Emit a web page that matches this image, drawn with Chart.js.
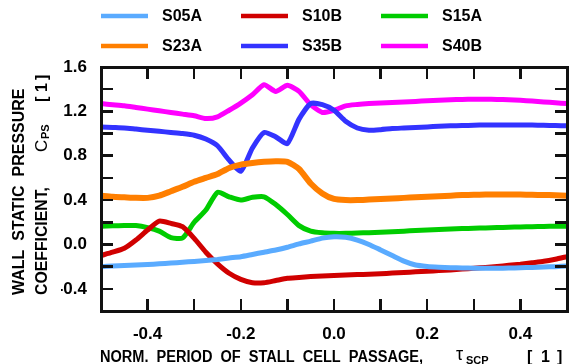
<!DOCTYPE html>
<html>
<head>
<meta charset="utf-8">
<script src="https://cdn.jsdelivr.net/npm/chart.js@4.4.0/dist/chart.umd.min.js"></script>
<style>
  html, body { margin: 0; padding: 0; background: #fff; }
  #wrap { position: relative; width: 570px; height: 364px; }
  #wrap canvas { position: absolute; left: 0; top: 0; }
  .frame { position: absolute; border: 3px solid #111; box-sizing: border-box; pointer-events: none; }
  .tk { position: absolute; background: #111; pointer-events: none; }
</style>
</head>
<body>
<div id="wrap"><canvas id="cps" width="570" height="364"></canvas></div>
<script>
// normalised period of stall cell passage
const tau = [-0.5, -0.475, -0.45, -0.425, -0.4, -0.375, -0.35, -0.325, -0.3, -0.275,
  -0.25, -0.225, -0.2, -0.175, -0.15, -0.125, -0.1, -0.075, -0.05, -0.025,
  0, 0.025, 0.05, 0.075, 0.1, 0.125, 0.15, 0.175, 0.2, 0.225,
  0.25, 0.275, 0.3, 0.325, 0.35, 0.375, 0.4, 0.425, 0.45, 0.475, 0.5];

// wall static pressure coefficient per sensor
const s05a = [-0.2, -0.195, -0.19, -0.185, -0.18, -0.175, -0.168, -0.16, -0.153, -0.145,
  -0.135, -0.122, -0.11, -0.09, -0.07, -0.05, -0.025, 0.005, 0.03, 0.057,
  0.07, 0.065, 0.04, 0.0, -0.05, -0.1, -0.15, -0.185, -0.198, -0.205,
  -0.21, -0.212, -0.214, -0.215, -0.215, -0.213, -0.21, -0.207, -0.203, -0.2, -0.195];
const s10b = [-0.1, -0.07, -0.035, 0.04, 0.13, 0.21, 0.19, 0.16, 0.055, -0.07,
  -0.175, -0.26, -0.315, -0.345, -0.345, -0.325, -0.305, -0.298, -0.29, -0.285,
  -0.28, -0.276, -0.272, -0.268, -0.264, -0.258, -0.253, -0.247, -0.242, -0.236,
  -0.23, -0.222, -0.215, -0.207, -0.198, -0.188, -0.178, -0.165, -0.152, -0.133, -0.11];
const s15a = [0.165, 0.168, 0.17, 0.17, 0.152, 0.12, 0.062, 0.058, 0.2, 0.31,
  0.47, 0.43, 0.4, 0.425, 0.43, 0.36, 0.27, 0.17, 0.12, 0.105,
  0.1, 0.1, 0.103, 0.106, 0.11, 0.115, 0.12, 0.125, 0.13, 0.135,
  0.14, 0.143, 0.146, 0.149, 0.152, 0.155, 0.158, 0.16, 0.162, 0.164, 0.165];
const s23a = [0.44, 0.43, 0.425, 0.42, 0.42, 0.44, 0.48, 0.52, 0.565, 0.6,
  0.635, 0.69, 0.72, 0.735, 0.745, 0.75, 0.745, 0.68, 0.55, 0.46,
  0.41, 0.4, 0.4, 0.405, 0.41, 0.415, 0.42, 0.425, 0.43, 0.435,
  0.44, 0.445, 0.448, 0.45, 0.45, 0.45, 0.45, 0.448, 0.446, 0.444, 0.44];
const s35b = [1.06, 1.055, 1.05, 1.04, 1.03, 1.02, 1.01, 1.0, 0.985, 0.95,
  0.89, 0.76, 0.66, 0.87, 1.01, 0.97, 0.91, 1.13, 1.27, 1.26,
  1.21, 1.11, 1.05, 1.03, 1.035, 1.045, 1.05, 1.055, 1.06, 1.065,
  1.07, 1.072, 1.075, 1.077, 1.078, 1.078, 1.077, 1.076, 1.074, 1.072, 1.07];
const s40b = [1.27, 1.26, 1.25, 1.235, 1.22, 1.205, 1.19, 1.175, 1.16, 1.135,
  1.15, 1.21, 1.275, 1.35, 1.44, 1.38, 1.435, 1.38, 1.26, 1.19,
  1.21, 1.25, 1.262, 1.27, 1.275, 1.28, 1.285, 1.29, 1.295, 1.3,
  1.305, 1.308, 1.31, 1.31, 1.308, 1.305, 1.3, 1.293, 1.285, 1.278, 1.27];

const names = ["S05A", "S10B", "S15A", "S23A", "S35B", "S40B"];
const colors = ["#5aabff", "#d00000", "#00cc00", "#ff7f00", "#3333ff", "#ff00ff"];

const xLabels = [-0.4, -0.2, 0.0, 0.2, 0.4];
const yLabels = [-0.4, 0.0, 0.4, 0.8, 1.2, 1.6];
const xMarks = [-0.4, -0.3, -0.2, -0.1, 0.0, 0.1, 0.2, 0.3, 0.4];
const yMarks = [-0.4, -0.2, 0.0, 0.2, 0.4, 0.6, 0.8, 1.0, 1.2, 1.4];

const FONT = '"Liberation Sans", Arial, sans-serif';

const series = [s05a, s10b, s15a, s23a, s35b, s40b];
const datasets = series.map((ys, i) => ({
  label: names[i],
  data: ys.map((v, k) => ({ x: tau[k], y: v })),
  borderColor: colors[i],
  borderWidth: i === 3 ? 6 : 5,
  pointRadius: 0,
  tension: 0.2,
  fill: false
}));

const isLabel = (list, v) => list.some(l => Math.abs(l - v) < 1e-9);

// axis titles and the two-row legend
const decor = {
  id: 'decor',
  afterDraw(chart) {
    const ctx = chart.ctx;
    ctx.save();
    ctx.fillStyle = '#000';
    ctx.textBaseline = 'alphabetic';
    ctx.textAlign = 'left';

    // x title
    ctx.font = 'bold 16px ' + FONT;
    ctx.fillText('NORM.  PERIOD  OF  STALL  CELL  PASSAGE,', 100, 362, 323);
    ctx.font = '18px ' + FONT;
    ctx.fillText('\u03C4', 456, 360);
    ctx.font = 'bold 11px ' + FONT;
    ctx.fillText('SCP', 466, 364);
    ctx.font = 'bold 16px ' + FONT;
    ctx.fillText('[', 527, 362);
    ctx.fillText('1', 541, 362);
    ctx.fillText(']', 557, 362);

    // y title, two rotated lines
    ctx.save();
    ctx.translate(24, 295);
    ctx.rotate(-Math.PI / 2);
    ctx.font = 'bold 16px ' + FONT;
    ctx.fillText('WALL  STATIC  PRESSURE', 0, 0, 210);
    ctx.restore();

    ctx.save();
    ctx.translate(47, 295);
    ctx.rotate(-Math.PI / 2);
    ctx.font = 'bold 16px ' + FONT;
    ctx.fillText('COEFFICIENT,', 0, 0, 108);
    ctx.font = '17px ' + FONT;
    ctx.fillText('C', 143, 0);
    ctx.font = 'bold 11px ' + FONT;
    ctx.fillText('PS', 156, 2);
    ctx.font = 'bold 16px ' + FONT;
    ctx.fillText('[', 193, 0);
    ctx.fillText('1', 203, 0);
    ctx.fillText(']', 215, 0);
    ctx.restore();

    // legend
    const colX = [101, 241, 381];
    const rowY = [16, 46];
    ctx.font = 'bold 16px ' + FONT;
    ctx.textBaseline = 'middle';
    names.forEach((n, i) => {
      const cx = colX[i % 3], cy = rowY[Math.floor(i / 3)];
      ctx.fillStyle = colors[i];
      ctx.fillRect(cx, cy - 2.25, 47, 4.5);
      ctx.fillStyle = '#000';
      ctx.fillText(n, cx + 61, cy + 1);
    });
    ctx.restore();
  }
};

const chart = new Chart(document.getElementById('cps'), {
  type: 'line',
  data: { datasets },
  plugins: [decor],
  options: {
    responsive: false,
    devicePixelRatio: 1,
    animation: false,
    layout: { padding: { left: 61, top: 67, right: 3, bottom: 13 } },
    plugins: { legend: { display: false }, tooltip: { enabled: false } },
    scales: {
      x: {
        type: 'linear', min: -0.5, max: 0.5,
        grid: { display: false }, border: { display: false },
        afterBuildTicks: s => { s.ticks = xLabels.map(v => ({ value: v })); },
        afterFit: s => { s.height = 40; },
        ticks: {
          color: '#000', padding: 5, maxRotation: 0,
          font: { family: FONT, size: 17, weight: 'bold' },
          callback: v => v.toFixed(1)
        }
      },
      y: {
        min: -0.6, max: 1.6,
        grid: { display: false }, border: { display: false },
        afterBuildTicks: s => { s.ticks = yLabels.map(v => ({ value: v })); },
        afterFit: s => { s.width = 40; },
        ticks: {
          color: '#000', padding: 6,
          font: { family: FONT, size: 17, weight: 'bold' },
          callback: v => v.toFixed(1)
        }
      }
    }
  }
});

// plot frame and inward ticks as an overlay, placed from the chart's own scales
(function overlay() {
  const wrap = document.getElementById('wrap');
  const x = chart.scales.x, y = chart.scales.y;
  const L = x.left, R = x.right, T = y.top, B = y.bottom;
  const add = (cls, l, t, w, h) => {
    const d = document.createElement('div');
    d.className = cls;
    d.style.left = l + 'px'; d.style.top = t + 'px';
    d.style.width = w + 'px'; d.style.height = h + 'px';
    wrap.appendChild(d);
  };
  add('frame', L - 1.5, T - 1.5, R - L + 3, B - T + 3);
  xMarks.forEach(v => {
    const px = x.getPixelForValue(v);
    add('tk', px - 1.25, B - 12, 2.5, 12);
    add('tk', px - 1.25, T, 2.5, 12);
  });
  yMarks.forEach(v => {
    const py = y.getPixelForValue(v);
    add('tk', L, py - 1.25, 12, 2.5);
    add('tk', R - 12, py - 1.25, 12, 2.5);
  });
})();
</script>
</body>
</html>
